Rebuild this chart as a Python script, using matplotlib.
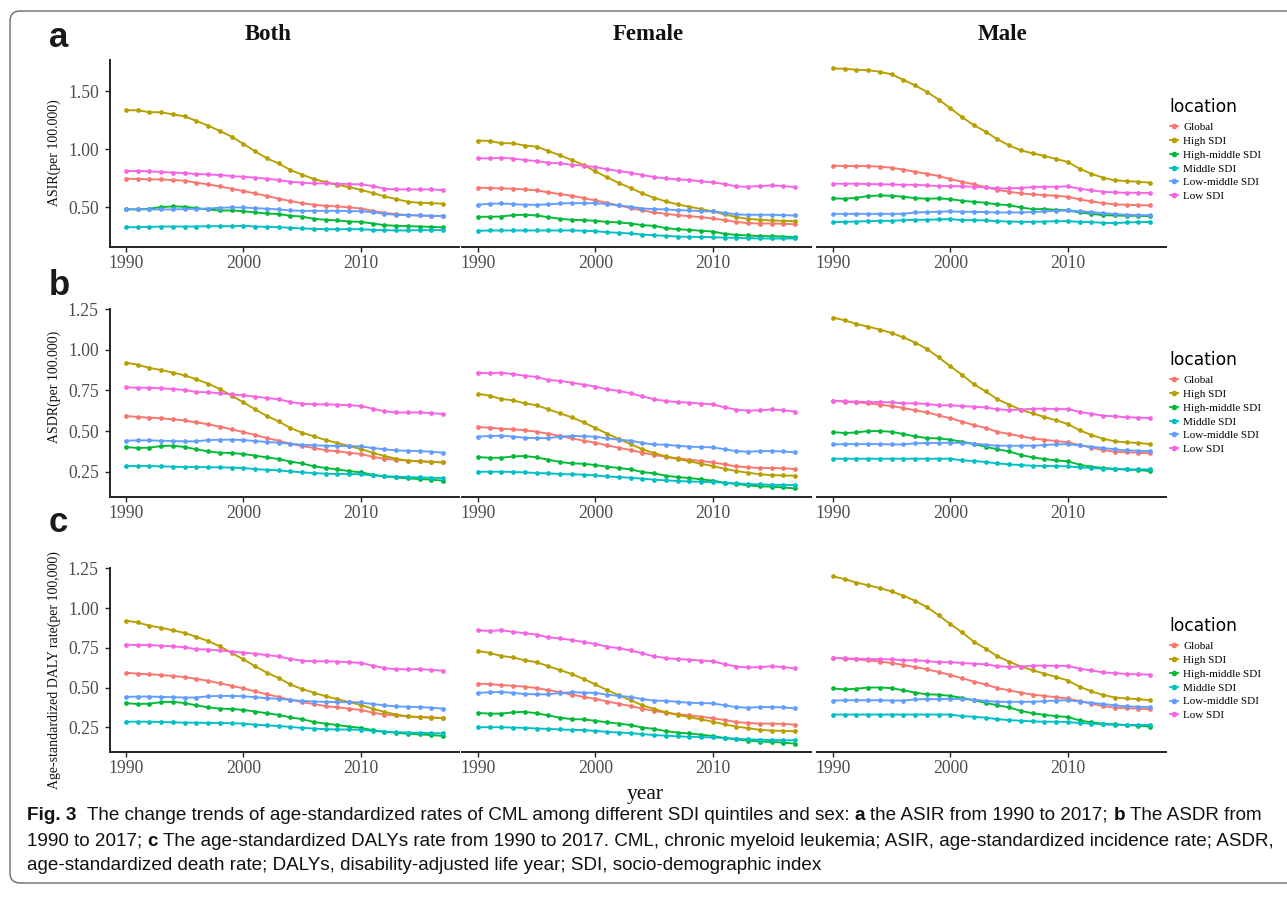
import numpy as np
import matplotlib
matplotlib.use("Agg")
import matplotlib.pyplot as plt
from matplotlib.lines import Line2D
from matplotlib.patches import FancyBboxPatch
from matplotlib.ticker import MultipleLocator, FormatStrFormatter

# --------------------
# Data (rates per 100,000, 1990-2017)
# --------------------
years = np.arange(1990, 2018)
locations = ["Global", "High SDI", "High-middle SDI", "Middle SDI", "Low-middle SDI", "Low SDI"]
palette = ["#F8766D", "#B79F00", "#00BA38", "#00BFC4", "#619CFF", "#F564E3"]
sexes = ["Both", "Female", "Male"]

# ASIR
asir_both_global = [0.747, 0.745, 0.741, 0.741, 0.736, 0.730, 0.713, 0.698, 0.681, 0.661, 0.641, 0.621, 0.598, 0.575, 0.555, 0.537, 0.523, 0.514, 0.509, 0.500, 0.491, 0.471, 0.454, 0.443, 0.434, 0.431, 0.428, 0.425]
asir_both_high = [1.336, 1.336, 1.319, 1.319, 1.300, 1.284, 1.244, 1.204, 1.158, 1.109, 1.046, 0.983, 0.922, 0.879, 0.822, 0.782, 0.744, 0.718, 0.695, 0.675, 0.652, 0.624, 0.595, 0.572, 0.549, 0.540, 0.537, 0.532]
asir_both_highmid = [0.486, 0.483, 0.489, 0.503, 0.509, 0.506, 0.494, 0.483, 0.474, 0.474, 0.468, 0.457, 0.448, 0.443, 0.428, 0.422, 0.402, 0.394, 0.388, 0.379, 0.376, 0.362, 0.348, 0.342, 0.339, 0.336, 0.333, 0.328]
asir_both_middle = [0.330, 0.330, 0.333, 0.336, 0.336, 0.336, 0.336, 0.339, 0.339, 0.339, 0.342, 0.336, 0.333, 0.330, 0.325, 0.319, 0.316, 0.313, 0.313, 0.313, 0.313, 0.307, 0.305, 0.302, 0.302, 0.305, 0.305, 0.305]
asir_both_lowmid = [0.483, 0.483, 0.483, 0.483, 0.483, 0.486, 0.488, 0.491, 0.497, 0.500, 0.500, 0.494, 0.489, 0.483, 0.474, 0.471, 0.471, 0.471, 0.471, 0.468, 0.468, 0.460, 0.445, 0.437, 0.434, 0.431, 0.428, 0.428]
asir_both_low = [0.813, 0.813, 0.810, 0.805, 0.800, 0.796, 0.787, 0.784, 0.779, 0.770, 0.764, 0.756, 0.747, 0.736, 0.721, 0.713, 0.707, 0.707, 0.704, 0.701, 0.698, 0.684, 0.661, 0.655, 0.655, 0.655, 0.655, 0.649]

asir_female_global = [0.670, 0.667, 0.664, 0.661, 0.655, 0.647, 0.629, 0.615, 0.601, 0.580, 0.560, 0.540, 0.517, 0.494, 0.474, 0.457, 0.445, 0.434, 0.425, 0.417, 0.405, 0.391, 0.376, 0.365, 0.362, 0.362, 0.359, 0.356]
asir_female_high = [1.075, 1.072, 1.052, 1.052, 1.032, 1.023, 0.986, 0.948, 0.908, 0.865, 0.810, 0.759, 0.710, 0.667, 0.621, 0.583, 0.552, 0.526, 0.506, 0.486, 0.466, 0.440, 0.417, 0.402, 0.394, 0.388, 0.385, 0.382]
asir_female_highmid = [0.420, 0.420, 0.422, 0.434, 0.437, 0.431, 0.417, 0.402, 0.394, 0.391, 0.385, 0.376, 0.371, 0.362, 0.348, 0.342, 0.322, 0.313, 0.307, 0.299, 0.293, 0.273, 0.264, 0.259, 0.253, 0.253, 0.250, 0.244]
asir_female_middle = [0.299, 0.302, 0.302, 0.302, 0.302, 0.302, 0.302, 0.302, 0.302, 0.300, 0.296, 0.287, 0.282, 0.276, 0.267, 0.261, 0.256, 0.250, 0.247, 0.247, 0.244, 0.241, 0.239, 0.236, 0.233, 0.233, 0.233, 0.233]
asir_female_lowmid = [0.523, 0.532, 0.534, 0.529, 0.523, 0.523, 0.526, 0.534, 0.537, 0.537, 0.537, 0.529, 0.517, 0.506, 0.491, 0.486, 0.483, 0.477, 0.474, 0.468, 0.466, 0.454, 0.440, 0.437, 0.437, 0.437, 0.434, 0.431]
asir_female_low = [0.922, 0.922, 0.928, 0.920, 0.908, 0.899, 0.885, 0.879, 0.868, 0.859, 0.848, 0.828, 0.813, 0.799, 0.779, 0.761, 0.750, 0.741, 0.736, 0.724, 0.716, 0.701, 0.681, 0.678, 0.684, 0.690, 0.684, 0.675]

asir_male_global = [0.859, 0.856, 0.856, 0.856, 0.851, 0.842, 0.825, 0.807, 0.790, 0.770, 0.744, 0.721, 0.698, 0.675, 0.652, 0.635, 0.621, 0.612, 0.606, 0.601, 0.592, 0.569, 0.552, 0.537, 0.526, 0.523, 0.520, 0.517]
asir_male_high = [1.695, 1.693, 1.684, 1.681, 1.667, 1.644, 1.598, 1.549, 1.494, 1.428, 1.353, 1.276, 1.207, 1.152, 1.086, 1.034, 0.991, 0.966, 0.943, 0.917, 0.891, 0.833, 0.790, 0.756, 0.733, 0.727, 0.721, 0.713]
asir_male_highmid = [0.578, 0.575, 0.583, 0.598, 0.603, 0.601, 0.592, 0.580, 0.575, 0.578, 0.572, 0.557, 0.549, 0.540, 0.526, 0.520, 0.500, 0.486, 0.486, 0.480, 0.474, 0.457, 0.445, 0.434, 0.431, 0.428, 0.428, 0.425]
asir_male_middle = [0.374, 0.376, 0.379, 0.382, 0.385, 0.385, 0.391, 0.394, 0.394, 0.397, 0.400, 0.391, 0.391, 0.388, 0.382, 0.379, 0.376, 0.376, 0.379, 0.382, 0.382, 0.376, 0.374, 0.368, 0.365, 0.371, 0.374, 0.376]
asir_male_lowmid = [0.445, 0.445, 0.445, 0.445, 0.445, 0.445, 0.445, 0.457, 0.460, 0.463, 0.466, 0.463, 0.463, 0.460, 0.457, 0.457, 0.457, 0.460, 0.466, 0.471, 0.474, 0.468, 0.460, 0.451, 0.443, 0.437, 0.434, 0.434]
asir_male_low = [0.704, 0.704, 0.704, 0.701, 0.700, 0.698, 0.695, 0.695, 0.690, 0.684, 0.684, 0.681, 0.678, 0.672, 0.664, 0.664, 0.667, 0.675, 0.678, 0.678, 0.681, 0.661, 0.647, 0.635, 0.629, 0.626, 0.626, 0.624]

# ASDR
asdr_both_global = [0.593, 0.587, 0.583, 0.579, 0.572, 0.566, 0.554, 0.542, 0.527, 0.511, 0.494, 0.476, 0.457, 0.441, 0.422, 0.408, 0.396, 0.383, 0.375, 0.367, 0.359, 0.342, 0.330, 0.324, 0.318, 0.314, 0.312, 0.307]
asdr_both_high = [0.921, 0.909, 0.889, 0.876, 0.860, 0.843, 0.819, 0.792, 0.759, 0.718, 0.677, 0.634, 0.593, 0.560, 0.519, 0.490, 0.468, 0.445, 0.427, 0.408, 0.390, 0.367, 0.347, 0.330, 0.318, 0.314, 0.310, 0.307]
asdr_both_highmid = [0.402, 0.396, 0.398, 0.408, 0.410, 0.402, 0.388, 0.375, 0.367, 0.365, 0.359, 0.349, 0.338, 0.328, 0.312, 0.301, 0.283, 0.273, 0.264, 0.254, 0.246, 0.232, 0.221, 0.215, 0.209, 0.205, 0.201, 0.195]
asdr_both_middle = [0.285, 0.285, 0.285, 0.283, 0.281, 0.279, 0.279, 0.277, 0.277, 0.275, 0.273, 0.266, 0.262, 0.258, 0.252, 0.246, 0.242, 0.238, 0.236, 0.236, 0.234, 0.227, 0.223, 0.219, 0.217, 0.215, 0.213, 0.211]
asdr_both_lowmid = [0.441, 0.443, 0.443, 0.441, 0.439, 0.437, 0.437, 0.445, 0.447, 0.447, 0.445, 0.439, 0.433, 0.429, 0.422, 0.416, 0.412, 0.410, 0.408, 0.408, 0.406, 0.396, 0.388, 0.381, 0.379, 0.377, 0.373, 0.367]
asdr_both_low = [0.770, 0.767, 0.767, 0.763, 0.759, 0.753, 0.741, 0.739, 0.733, 0.726, 0.720, 0.712, 0.704, 0.696, 0.679, 0.669, 0.665, 0.665, 0.663, 0.659, 0.655, 0.638, 0.622, 0.615, 0.615, 0.615, 0.611, 0.605]

asdr_female_global = [0.525, 0.521, 0.515, 0.511, 0.505, 0.496, 0.484, 0.470, 0.455, 0.441, 0.429, 0.412, 0.398, 0.383, 0.367, 0.353, 0.342, 0.332, 0.324, 0.316, 0.307, 0.295, 0.283, 0.277, 0.273, 0.273, 0.271, 0.266]
asdr_female_high = [0.730, 0.718, 0.698, 0.689, 0.671, 0.659, 0.634, 0.609, 0.585, 0.554, 0.519, 0.484, 0.451, 0.420, 0.388, 0.365, 0.344, 0.328, 0.314, 0.299, 0.285, 0.268, 0.254, 0.244, 0.234, 0.229, 0.227, 0.225]
asdr_female_highmid = [0.340, 0.336, 0.336, 0.344, 0.347, 0.338, 0.324, 0.310, 0.301, 0.299, 0.291, 0.281, 0.273, 0.264, 0.248, 0.240, 0.225, 0.217, 0.211, 0.203, 0.195, 0.182, 0.174, 0.166, 0.160, 0.158, 0.153, 0.147]
asdr_female_middle = [0.250, 0.250, 0.250, 0.248, 0.246, 0.242, 0.240, 0.236, 0.234, 0.232, 0.227, 0.221, 0.217, 0.213, 0.207, 0.201, 0.197, 0.193, 0.190, 0.188, 0.186, 0.182, 0.178, 0.174, 0.172, 0.170, 0.168, 0.168]
asdr_female_lowmid = [0.466, 0.470, 0.472, 0.466, 0.459, 0.457, 0.457, 0.466, 0.470, 0.468, 0.466, 0.455, 0.447, 0.441, 0.427, 0.418, 0.416, 0.410, 0.404, 0.402, 0.400, 0.388, 0.377, 0.373, 0.377, 0.377, 0.375, 0.369]
asdr_female_low = [0.860, 0.856, 0.860, 0.850, 0.841, 0.833, 0.815, 0.809, 0.798, 0.786, 0.774, 0.757, 0.747, 0.733, 0.714, 0.696, 0.685, 0.679, 0.675, 0.669, 0.665, 0.646, 0.632, 0.626, 0.628, 0.634, 0.628, 0.620]

asdr_male_global = [0.687, 0.681, 0.677, 0.671, 0.663, 0.654, 0.642, 0.628, 0.615, 0.597, 0.579, 0.558, 0.537, 0.519, 0.496, 0.482, 0.468, 0.455, 0.447, 0.439, 0.431, 0.414, 0.398, 0.383, 0.373, 0.369, 0.367, 0.363]
asdr_male_high = [1.199, 1.182, 1.160, 1.143, 1.125, 1.104, 1.077, 1.045, 1.006, 0.954, 0.899, 0.846, 0.788, 0.745, 0.696, 0.663, 0.632, 0.609, 0.587, 0.566, 0.544, 0.505, 0.476, 0.453, 0.437, 0.431, 0.427, 0.420]
asdr_male_highmid = [0.494, 0.488, 0.492, 0.500, 0.500, 0.496, 0.482, 0.468, 0.457, 0.455, 0.447, 0.435, 0.420, 0.404, 0.388, 0.375, 0.353, 0.338, 0.328, 0.320, 0.314, 0.293, 0.281, 0.273, 0.268, 0.264, 0.260, 0.254]
asdr_male_middle = [0.330, 0.330, 0.330, 0.330, 0.330, 0.330, 0.330, 0.330, 0.330, 0.330, 0.330, 0.320, 0.316, 0.310, 0.301, 0.295, 0.291, 0.287, 0.285, 0.285, 0.283, 0.277, 0.273, 0.268, 0.266, 0.264, 0.264, 0.264]
asdr_male_lowmid = [0.418, 0.420, 0.420, 0.420, 0.420, 0.418, 0.418, 0.425, 0.427, 0.427, 0.429, 0.427, 0.423, 0.416, 0.410, 0.410, 0.410, 0.410, 0.414, 0.418, 0.420, 0.412, 0.404, 0.396, 0.388, 0.381, 0.379, 0.377]
asdr_male_low = [0.687, 0.683, 0.681, 0.679, 0.678, 0.677, 0.671, 0.671, 0.667, 0.659, 0.659, 0.654, 0.650, 0.646, 0.634, 0.630, 0.632, 0.638, 0.638, 0.636, 0.636, 0.618, 0.607, 0.595, 0.591, 0.585, 0.583, 0.581]

asir = {
    "Both": [asir_both_global, asir_both_high, asir_both_highmid, asir_both_middle, asir_both_lowmid, asir_both_low],
    "Female": [asir_female_global, asir_female_high, asir_female_highmid, asir_female_middle, asir_female_lowmid, asir_female_low],
    "Male": [asir_male_global, asir_male_high, asir_male_highmid, asir_male_middle, asir_male_lowmid, asir_male_low],
}
asdr = {
    "Both": [asdr_both_global, asdr_both_high, asdr_both_highmid, asdr_both_middle, asdr_both_lowmid, asdr_both_low],
    "Female": [asdr_female_global, asdr_female_high, asdr_female_highmid, asdr_female_middle, asdr_female_lowmid, asdr_female_low],
    "Male": [asdr_male_global, asdr_male_high, asdr_male_highmid, asdr_male_middle, asdr_male_lowmid, asdr_male_low],
}
# DALY panel shows the same curves as the ASDR panel
daly = {sex: [list(v) for v in asdr[sex]] for sex in sexes}

# --------------------
# Figure setup (layout in pixels)
# --------------------
W, H = 1287, 900
plt.rcParams["font.family"] = ["Liberation Serif", "DejaVu Serif"]
fig = plt.figure(figsize=(W / 100, H / 100), dpi=100)


def fx(px):
    return px / W


def fy(py):
    return 1 - py / H


col_left = [110, 462, 817]
col_w = 349
title_x = [268, 648, 1003]
rows = [
    # data, y label, tick step, (top, bottom), y label centre, legend top, letter, letter baseline
    (asir, "ASIR(per 100.000)", 0.5, (60, 247), 153, 92, "a", 47),
    (asdr, "ASDR(per 100.000)", 0.25, (309, 497), 387, 345, "b", 295),
    (daly, "Age-standardized DALY rate(per 100,000)", 0.25, (568, 752), 670, 611, "c", 532),
]

axis_col = "#222222"
tick_txt = "#4D4D4D"

for data, ylabel, step, (top, bottom), ylab_y, leg_top, letter, letter_y in rows:
    every = np.concatenate([np.ravel(data[s]) for s in sexes])
    lo, hi = every.min(), every.max()
    pad = 0.05 * (hi - lo)

    for c, sex in enumerate(sexes):
        ax = fig.add_axes([fx(col_left[c]), fy(bottom), col_w / W, (bottom - top) / H])
        for name, color, vals in zip(locations, palette, data[sex]):
            ax.plot(years, vals, color=color, lw=1.35, marker="o", ms=2.4,
                    label=name, solid_capstyle="round")

        ax.set_xlim(1988.65, 2018.35)
        ax.set_ylim(lo - pad, hi + pad)
        ax.set_facecolor("none")
        ax.xaxis.set_major_locator(MultipleLocator(10))
        ax.yaxis.set_major_locator(MultipleLocator(step))
        ax.yaxis.set_major_formatter(FormatStrFormatter("%.2f"))
        ax.tick_params(axis="both", colors=axis_col, labelcolor=tick_txt,
                       labelsize=12.7, length=3.5, width=1.0)
        ax.tick_params(axis="x", pad=2.5)
        ax.tick_params(axis="y", pad=4.5)

        for side in ["top", "right"]:
            ax.spines[side].set_visible(False)
        ax.spines["bottom"].set_color(axis_col)
        ax.spines["bottom"].set_linewidth(1.4)
        if c == 0:
            ax.spines["left"].set_color(axis_col)
            ax.spines["left"].set_linewidth(1.4)
        else:
            ax.spines["left"].set_visible(False)
            ax.tick_params(axis="y", left=False, labelleft=False)

        if top == 60:
            fig.text(fx(title_x[c]), fy(35), sex, ha="center", va="center",
                     fontsize=16.5, fontweight="bold", color="#111111")

    # axis title, panel letter, legend
    fig.text(fx(54), fy(ylab_y), ylabel, rotation=90, ha="center", va="center",
             fontsize=10, color="#111111")
    fig.text(fx(49), fy(letter_y), letter, ha="left", va="baseline",
             fontsize=25, fontweight="bold", family="Liberation Sans", color="#1a1a1a")

    handles = [Line2D([0], [0], color=col, lw=1.3, marker="o", ms=3) for col in palette]
    leg = fig.legend(handles, locations, loc="upper left",
                     bbox_to_anchor=(fx(1164), fy(leg_top)), frameon=False,
                     title="location", alignment="left", fontsize=8,
                     borderpad=0, handlelength=0.75, handletextpad=0.5,
                     labelspacing=0.36)
    leg.get_title().set_fontfamily("DejaVu Sans")
    leg.get_title().set_fontsize(12.3)
    leg._legend_box.sep = 5

fig.text(fx(645), fy(795), "year", ha="center", va="center", fontsize=15.5, color="#111111")

# --------------------
# Caption box
# --------------------
border = FancyBboxPatch((0.10, 0.17), 13.0, 8.72,
                        boxstyle="round,pad=0,rounding_size=0.1",
                        transform=fig.dpi_scale_trans, fill=False,
                        edgecolor="#6b6b6b", lw=1.0)
fig.patches.append(border)

renderer = fig.canvas.get_renderer()
cap_size = 13.6
cap_font = "Liberation Sans"


def text_width(s, weight="normal"):
    t = fig.text(0, 0, s, fontsize=cap_size, family=cap_font, fontweight=weight)
    w = t.get_window_extent(renderer).width
    t.remove()
    return w


space = text_width("x x") - text_width("xx")


def caption_line(y_px, runs):
    x = 27
    for s, bold, gaps in runs:
        t = fig.text(fx(x), fy(y_px), s, fontsize=cap_size, family=cap_font,
                     fontweight="bold" if bold else "normal", va="center", color="#111111")
        x += t.get_window_extent(renderer).width + gaps * space


caption_line(815, [
    ("Fig. 3", True, 2),
    ("The change trends of age-standardized rates of CML among different SDI quintiles and sex:", False, 1),
    ("a", True, 1),
    ("the ASIR from 1990 to 2017;", False, 1),
    ("b", True, 1),
    ("The ASDR from", False, 0),
])
caption_line(841, [
    ("1990 to 2017;", False, 1),
    ("c", True, 1),
    ("The age-standardized DALYs rate from 1990 to 2017. CML, chronic myeloid leukemia; "
     "ASIR, age-standardized incidence rate; ASDR,", False, 0),
])
caption_line(866, [
    ("age-standardized death rate; DALYs, disability-adjusted life year; SDI, socio-demographic index",
     False, 0),
])

fig.savefig("out.png", dpi=100)
